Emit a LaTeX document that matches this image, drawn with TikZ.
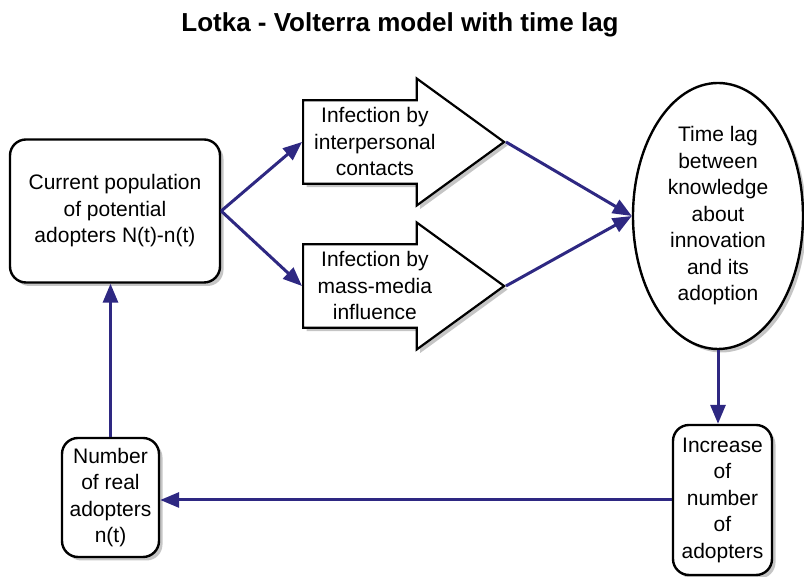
\documentclass[tikz,border=0pt]{standalone}
\usepackage{fontspec}
\setmainfont{Liberation Sans}
\usetikzlibrary{shapes, shapes.arrows, shapes.geometric, arrows.meta, positioning, shadows}
\definecolor{flowblue}{RGB}{46,40,130}

\begin{document}
\begin{tikzpicture}[x=1pt, y=1pt,
    every node/.style={font=\fontsize{21}{26.5}\selectfont, align=center},
    boxshadow/.style={drop shadow={shadow xshift=3.5pt, shadow yshift=-3.5pt, fill=black!45}},
    roundbox/.style={draw, line width=2.4pt, rectangle, rounded corners=16pt, fill=white, inner sep=0pt, boxshadow},
    infarrow/.style={draw, line width=2.2pt, single arrow, fill=white, minimum height=201pt, minimum width=127pt,
        single arrow head extend=20pt, single arrow tip angle=72, inner sep=3pt, boxshadow},
    flow/.style={draw=flowblue, line width=3pt, -{Triangle[length=19pt, width=15pt]}}]
        \useasboundingbox (0,0) rectangle (804,577);

        % Draw the title
        \node (title) at (400,552) {\fontsize{26}{30}\selectfont\bfseries Lotka - Volterra model with time lag};

        % Draw the blocks
        \node (current) [roundbox, minimum width=210pt, minimum height=143pt] at (115,366)
            {Current population\\of potential\\adopters N(t)-n(t)};
        \node (contacts) [infarrow, anchor=tail] at (302,435) {Infection by\\interpersonal\\contacts};
        \node (media)    [infarrow, anchor=tail] at (302,291) {Infection by\\mass-media\\influence};
        \node (timelag) [draw, ellipse, line width=2.4pt, fill=white, inner sep=0pt, minimum width=170pt, minimum height=266pt, boxshadow]
            at (718,361) {Time lag\\between\\knowledge\\about\\innovation\\and its\\adoption};
        \node (increase) [roundbox, minimum width=99pt, minimum height=150pt] at (722.5,77)
            {Increase\\of\\number\\of\\adopters};
        \node (real) [roundbox, minimum width=97pt, minimum height=119pt] at (110.5,79.5)
            {Number\\of real\\adopters\\n(t)};

        % Draw the connecting lines
        \draw [flow] (current.east) -- (contacts.tail);
        \draw [flow] (current.east) -- (media.tail);
        \draw [flow] (contacts.tip) -- (timelag.west);
        \draw [flow] (media.tip) -- (timelag.west);
        \draw [flow] (timelag.south) -- (timelag.south |- increase.north);
        \draw [flow] (increase.west) -- (increase.west -| real.east);
        \draw [flow] (real.north) -- (real.north |- current.south);
    \end{tikzpicture}
\end{document}
